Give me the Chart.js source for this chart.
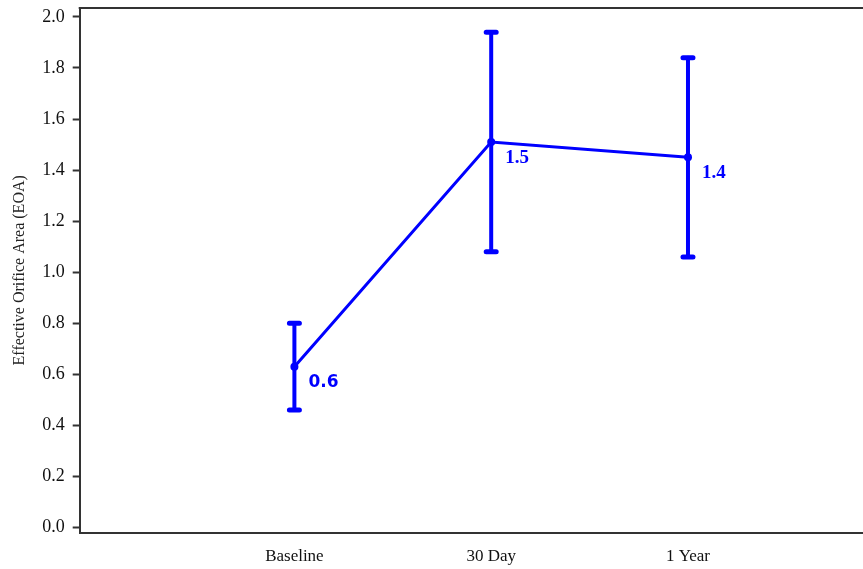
<!DOCTYPE html>
<html>
<head>
<meta charset="utf-8">
<script src="https://cdn.jsdelivr.net/npm/chart.js@4"></script>
<style>
    html, body { margin: 0; padding: 0; background: #fff; overflow: hidden; }
</style>
</head>
<body>
<canvas id="eoaChart" width="863" height="569"></canvas>
<script>
const categories = ['Baseline', '30 Day', '1 Year'];
const meanEOA = [0.63, 1.51, 1.45];   // mean values
const upperEOA = [0.80, 1.94, 1.84];  // error bar tops
const lowerEOA = [0.46, 1.08, 1.06];  // error bar bottoms
const pointLabels = ['0.6', '1.5', '1.4'];
const labelFonts = ['bold 17px "DejaVu Sans"', 'bold 19px "Liberation Serif"', 'bold 19px "Liberation Serif"'];
const yTicks = [0.0, 0.2, 0.4, 0.6, 0.8, 1.0, 1.2, 1.4, 1.6, 1.8, 2.0];

const blue = '#0000ff';

// error bars, frame lines and value labels
const extrasPlugin = {
    id: 'extras',
    beforeDatasetsDraw(chart) {
        const ctx = chart.ctx;
        const x = chart.scales.x;
        const y = chart.scales.y;
        ctx.save();
        ctx.strokeStyle = blue;
        ctx.lineCap = 'round';
        categories.forEach((c, i) => {
            const px = x.getPixelForValue(i + 1);
            const top = y.getPixelForValue(upperEOA[i]);
            const bot = y.getPixelForValue(lowerEOA[i]);
            ctx.lineWidth = 4;
            ctx.beginPath();
            ctx.moveTo(px, top);
            ctx.lineTo(px, bot);
            ctx.stroke();
            ctx.lineWidth = 5;
            ctx.beginPath();
            ctx.moveTo(px - 5, top); ctx.lineTo(px + 5, top);
            ctx.moveTo(px - 5, bot); ctx.lineTo(px + 5, bot);
            ctx.stroke();
        });
        ctx.restore();
    },
    afterDraw(chart) {
        const ctx = chart.ctx;
        const a = chart.chartArea;
        const x = chart.scales.x;
        const y = chart.scales.y;
        const by = Math.round(a.bottom - 1) + 1;
        ctx.save();
        ctx.strokeStyle = '#333';
        ctx.lineWidth = 2;
        ctx.beginPath();
        ctx.moveTo(a.left - 1, a.top);
        ctx.lineTo(863, a.top);
        ctx.moveTo(a.right - 2, by);
        ctx.lineTo(863, by);
        ctx.stroke();
        ctx.fillStyle = blue;
        ctx.textAlign = 'left';
        ctx.textBaseline = 'middle';
        pointLabels.forEach((t, i) => {
            ctx.font = labelFonts[i];
            const px = x.getPixelForValue(i + 1);
            const py = y.getPixelForValue(meanEOA[i]);
            ctx.fillText(t, px + 14, py + 16);
        });
        ctx.restore();
    }
};

const ctx = document.getElementById('eoaChart').getContext('2d');
const chart = new Chart(ctx, {
    type: 'line',
    data: {
        datasets: [{
            data: meanEOA.map((v, i) => ({ x: i + 1, y: v })),
            borderColor: blue,
            backgroundColor: blue,
            borderWidth: 3,
            pointRadius: 4,
            pointBorderWidth: 0,
            tension: 0
        }]
    },
    options: {
        responsive: false,
        animation: false,
        layout: { padding: { top: 8, right: 0, left: 10, bottom: -12 } },
        plugins: { legend: { display: false }, tooltip: { enabled: false } },
        scales: {
            x: {
                type: 'linear',
                min: -0.091,
                max: 3.869,
                afterBuildTicks: axis => { axis.ticks = categories.map((c, i) => ({ value: i + 1 })); },
                grid: { display: false, drawTicks: false },
                border: { display: true, color: '#333', width: 2 },
                ticks: {
                    color: '#111',
                    padding: 14,
                    font: { family: '"Liberation Serif"', size: 17 },
                    callback: v => categories[v - 1]
                }
            },
            y: {
                min: -0.02,
                max: 2.035,
                afterBuildTicks: axis => { axis.ticks = yTicks.map(v => ({ value: v })); },
                afterFit: axis => { axis.paddingTop = 0; axis.paddingBottom = 0; },
                grid: { display: true, drawOnChartArea: false, drawTicks: true, tickLength: 7, color: '#333', tickWidth: 2 },
                border: { display: true, color: '#333', width: 2 },
                title: {
                    display: true,
                    text: 'Effective Orifice Area (EOA)',
                    color: '#222',
                    font: { family: '"Liberation Serif"', size: 16 },
                    padding: { top: 0, bottom: 5 }
                },
                ticks: {
                    color: '#111',
                    padding: 8,
                    font: { family: '"Liberation Serif"', size: 18 },
                    callback: v => v.toFixed(1)
                }
            }
        }
    },
    plugins: [extrasPlugin]
});
</script>
</body>
</html>
